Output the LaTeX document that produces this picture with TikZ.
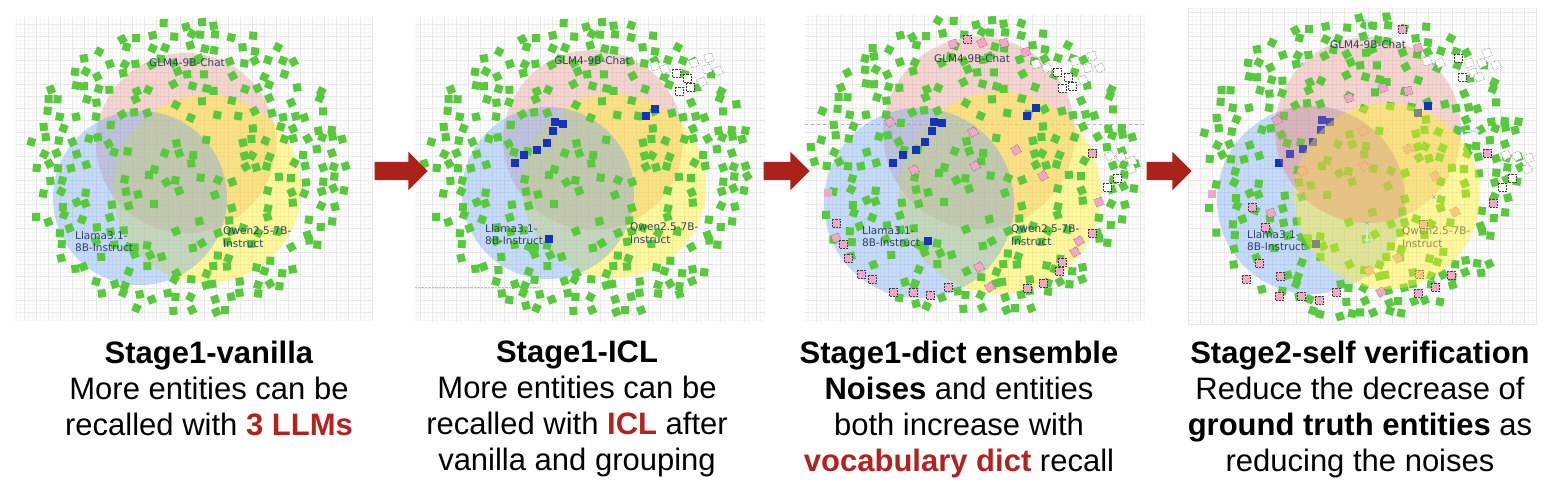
\documentclass[tikz,border=0pt]{standalone}
\usepackage{fontspec}
\setmainfont{Liberation Sans}
\newfontfamily\lblfont{DejaVu Sans}
\usetikzlibrary{shapes.arrows,arrows.meta}
\definecolor{sqgreen}{RGB}{88,200,60}
\definecolor{sqblue}{RGB}{20,50,190}
\definecolor{sqpink}{RGB}{242,166,200}
\definecolor{cpink}{RGB}{232,150,140}
\definecolor{cblue}{RGB}{110,165,240}
\definecolor{cyellow}{RGB}{255,240,40}
\definecolor{arrowred}{RGB}{170,34,26}
\definecolor{txtred}{RGB}{178,34,30}
\definecolor{lbl}{RGB}{45,65,100}
\definecolor{handle}{RGB}{110,185,230}
\newcommand\setpanel[8]{\def\Gx{#1}\def\Gy{#2}\def\Gxe{#3}\def\Gye{#4}\def\Cx{#5}\def\Cy{#6}\def\Ax{#7}\def\Ay{#8}}
\newcommand\setcircles[9]{\def\PkX{#1}\def\PkY{#2}\def\PkR{#3}\def\BlX{#4}\def\BlY{#5}\def\BlR{#6}\def\YeX{#7}\def\YeY{#8}\def\YeR{#9}}
\newcommand\gridbg{%
  \fill[white] (\Gx,\Gy) rectangle (\Gxe,\Gye);
  \draw[black!4,line width=0.25pt,step=4pt] (\Gx,\Gy) grid (\Gxe,\Gye);
  \draw[black!9,line width=0.35pt,step=12pt] (\Gx,\Gy) grid (\Gxe,\Gye);
}
\newcommand\pinkcircle{\fill[cpink,fill opacity=0.4] (\PkX,\PkY) circle[radius=\PkR];}
\newcommand\yellowcircle{\fill[cyellow,fill opacity=0.45] (\YeX,\YeY) circle[radius=\YeR];}
\newcommand\bluecircle{\fill[cblue,fill opacity=0.4] (\BlX,\BlY) circle[radius=\BlR];}
\newcommand\greencloud{%
 \pgfmathsetseed{4242}%
 \foreach \i in {0,...,27}{\foreach \j in {0,...,24}{%
   \pgfmathsetmacro\px{\Gx+6+\i*13+(rnd-0.5)*8}%
   \pgfmathsetmacro\py{\Gy+6+\j*13+(rnd-0.5)*8}%
   \pgfmathsetmacro\rr{rnd}%
   \pgfmathsetmacro\ang{(rnd-0.5)*60}%
   \pgfmathsetmacro\dmin{min(veclen(\px-\PkX,\py-\PkY)/\PkR,veclen(\px-\BlX,\py-\BlY)/\BlR,veclen(\px-\YeX,\py-\YeY)/\YeR)}%
   \pgfmathsetmacro\ee{((\px-\Cx)/\Ax)*((\px-\Cx)/\Ax)+((\py-\Cy)/\Ay)*((\py-\Cy)/\Ay)}%
   \pgfmathtruncatemacro\keep{(\px>\Gx+5)*(\px<\Gxe-5)*(\py>\Gy+5)*(\py<\Gye-5)*((\dmin<1)*(\rr<0.48)+(\dmin>=1)*(\ee<1)*(\rr<0.8))}%
   \ifnum\keep>0 \fill[sqgreen,rotate around={\ang:(\px,\py)}] (\px-4,\py-4) rectangle (\px+4,\py+4);\fi
 }}}
\tikzset{
  bluesq/.style={fill=sqblue},
  pinksq/.style={fill=sqpink,draw=black!75,densely dotted,line width=0.45pt},
  emptysq/.style={fill=white,draw=black!75,densely dotted,line width=0.45pt},
  lbltext/.style={font=\lblfont\fontsize{10.5}{12.5}\selectfont,text=lbl,inner sep=0,align=left},
  caption/.style={anchor=north,align=center,inner sep=0,font=\fontsize{31}{36}\selectfont},
  blockarrow/.style={single arrow,fill=arrowred,draw=none,inner xsep=0pt,inner ysep=9pt,single arrow head extend=10pt},
  handlemark/.style={draw=handle,line width=0.6pt},
  guide/.style={draw=black!30,dashed,line width=0.4pt}
}
\newcommand\sqs[2]{\foreach \x/\y/\a in {#2}{\path[#1,rotate around={\a:(\x,\y)}] (\x-4,\y-4) rectangle (\x+4,\y+4);}}
\begin{document}
\begin{tikzpicture}[x=1pt,y=-1pt]
\useasboundingbox (0,0) rectangle (1544,498);
% ---------------- Panel 1
\setpanel{15}{17}{373}{320}{186}{168}{160}{148}
\setcircles{186}{143}{90}{140}{198}{87}{207}{189}{94}
\gridbg
\pinkcircle\yellowcircle\bluecircle
\greencloud
\node[lbltext] (glm1) at (187,63) {GLM4-9B-Chat};
\node[lbltext,anchor=north west] (llama1) at (75,231) {Llama3.1-\\8B-Instruct};
\node[lbltext,anchor=north west] (qwen1) at (223,227) {Qwen2.5-7B-\\Instruct};
% ---------------- Panel 2
\setpanel{415}{17}{765}{322}{589}{170}{165}{150}
\setcircles{593}{140}{90}{548}{193}{86}{614}{186}{92}
\gridbg
\draw[black!25,densely dotted,line width=0.4pt] (415,287) -- (540,287);
\pinkcircle\yellowcircle\bluecircle
\greencloud
\sqs{bluesq}{555/122/0,563/124/0,553/131/0,547/143/0,537/150/0,524/155/0,515/163/0,646/116/0,655/109/0,549/239/0}
\sqs{emptysq}{655/66/20,665/69/25,676/73/0,687/78/0,679/91/0,690/87/0,702/82/25,694/63/20,707/69/20,709/58/15,718/71/25}
\node[lbltext] (glm2) at (592,61) {GLM4-9B-Chat};
\node[lbltext,anchor=north west] (llama2) at (485,224) {Llama3.1-\\8B-Instruct};
\node[lbltext,anchor=north west] (qwen2) at (630,223) {Qwen2.5-7B-\\Instruct};
% ---------------- Panel 3
\setpanel{805}{15}{1145}{322}{972}{168}{165}{152}
\setcircles{979}{133}{96}{919}{203}{95}{1000}{193}{101}
\gridbg
\path[guide] (805,124) -- (1145,124);
\pinkcircle\yellowcircle\bluecircle
\greencloud
\sqs{bluesq}{934/122/0,942/123/0,932/131/0,925/142/0,916/150/0,903/155/0,893/163/0,1027/116/0,1036/108/0,928/241/0}
\sqs{emptysq}{1036/64/20,1047/68/25,1057/72/0,1068/77/0,1062/88/0,1072/86/0,1083/80/25,1075/61/20,1088/68/20,1092/56/15,1100/68/25,1110/156/25,1121/157/25,1132/161/20,1131/169/25,1117/178/0,1107/187/0}
\path[fill=sqpink] (824,189) rectangle (832,197);
\sqs{pinksq}{953/44/20,967/39/0,982/43/25,1004/43/15,1026/52/20,890/122/30,973/132/30,1016/150/30,975/166/30,914/170/30,1043/176/30,1092/153/0,1099/202/20,836/223/0,836/238/20,843/244/0,848/258/0,861/274/0,872/279/0,893/292/0,913/292/0,930/295/0,948/287/0,979/267/30,990/287/30,1027/288/0,1043/283/0,1059/271/0,1062/262/0,1075/252/30,1079/241/30,1092/233/0}
\node[lbltext] (glm3) at (972,59) {GLM4-9B-Chat};
\node[lbltext,anchor=north west] (llama3) at (862,226) {Llama3.1-\\8B-Instruct};
\node[lbltext,anchor=north west] (qwen3) at (1011,225) {Qwen2.5-7B-\\Instruct};
% ---------------- Panel 4
\setpanel{1188}{8}{1537}{325}{1362}{168}{165}{155}
\setcircles{1368}{130}{93}{1311}{200}{94}{1387}{196}{93}
\gridbg
\bluecircle\pinkcircle
\greencloud
\sqs{bluesq}{1322/120/0,1330/122/0,1321/130/0,1313/142/0,1303/149/0,1290/154/0,1279/163/0,1428/106/0,1418/113/0,1316/244/0}
\sqs{emptysq}{1427/61/20,1440/63/25,1458/58/0,1469/63/20,1482/63/25,1487/53/20,1496/65/25,1462/77/0,1473/73/20,1479/77/25,1506/155/25,1517/156/25,1529/158/20,1527/169/25,1512/178/0,1502/187/0}
\path[fill=sqpink] (1208,190) rectangle (1216,198);
\sqs{pinksq}{1402/29/0,1418/48/20,1383/88/20,1408/91/15,1349/98/20,1277/120/30,1363/131/30,1408/149/30,1364/166/30,1302/171/30,1435/176/30,1487/153/0,1493/203/0,1455/212/30,1423/224/0,1252/207/0,1271/213/20,1265/227/0,1259/263/0,1246/279/0,1280/276/0,1279/296/0,1301/296/0,1319/300/0,1336/292/0,1369/271/30,1381/292/30,1398/258/30,1418/293/0,1419/274/0,1435/287/0,1451/275/0}
\node[lbltext,anchor=north west] (qwen4) at (1402,227) {Qwen2.5-7B-\\Instruct};
\yellowcircle
\begin{scope}
  \clip (\BlX,\BlY) circle[radius=\BlR];
  \fill[cpink,fill opacity=0.25] (\PkX,\PkY) circle[radius=\PkR];
\end{scope}
\node[lbltext] (glm4) at (1368,45) {GLM4-9B-Chat};
\node[lbltext,anchor=north west] (llama4) at (1247,230) {Llama3.1-\\8B-Instruct};
\foreach \x/\y in {1302/64,1367/37,1434/64,1462/131,1434/197,1367/223,1302/197,1274/131}{
  \path[handlemark] (\x-1.6,\y-1.6) -- (\x+1.6,\y+1.6) (\x-1.6,\y+1.6) -- (\x+1.6,\y-1.6);}
\coordinate (hu1) at (1367,30); \coordinate (hu2) at (1367,18);
\coordinate (hr1) at (1465,131); \coordinate (hr2) at (1480,131);
\coordinate (hd1) at (1367,229); \coordinate (hd2) at (1367,243);
\draw[handle!35,line width=2pt,-{Triangle[length=4pt,width=6pt]}] (hu1) -- (hu2);
\draw[handle!35,line width=2pt,-{Triangle[length=4pt,width=6pt]}] (hr1) -- (hr2);
\draw[handle!35,line width=2pt,-{Triangle[length=4pt,width=6pt]}] (hd1) -- (hd2);
% ---------------- Arrows
\node[blockarrow,minimum height=53pt] (a1) at (396.5,171) {};
\node[blockarrow,minimum height=46pt] (a2) at (782,171) {};
\node[blockarrow,minimum height=45pt] (a3) at (1164.5,171) {};
% ---------------- Captions
\node[caption] (t1) at (209,341) {\textbf{Stage1-vanilla}\\More entities can be\\recalled with \textcolor{txtred}{\textbf{3 LLMs}}};
\node[caption] (t2) at (577,341) {\textbf{Stage1-ICL}\\More entities can be\\recalled with \textcolor{txtred}{\textbf{ICL}} after\\vanilla and grouping};
\node[caption] (t3) at (959,341) {\textbf{Stage1-dict ensemble}\\\textbf{Noises} and entities\\both increase with\\\textcolor{txtred}{\textbf{vocabulary dict}} recall};
\node[caption] (t4) at (1360,341) {\textbf{Stage2-self verification}\\Reduce the decrease of\\\textbf{ground truth entities} as\\reducing the noises};
\end{tikzpicture}
\end{document}
